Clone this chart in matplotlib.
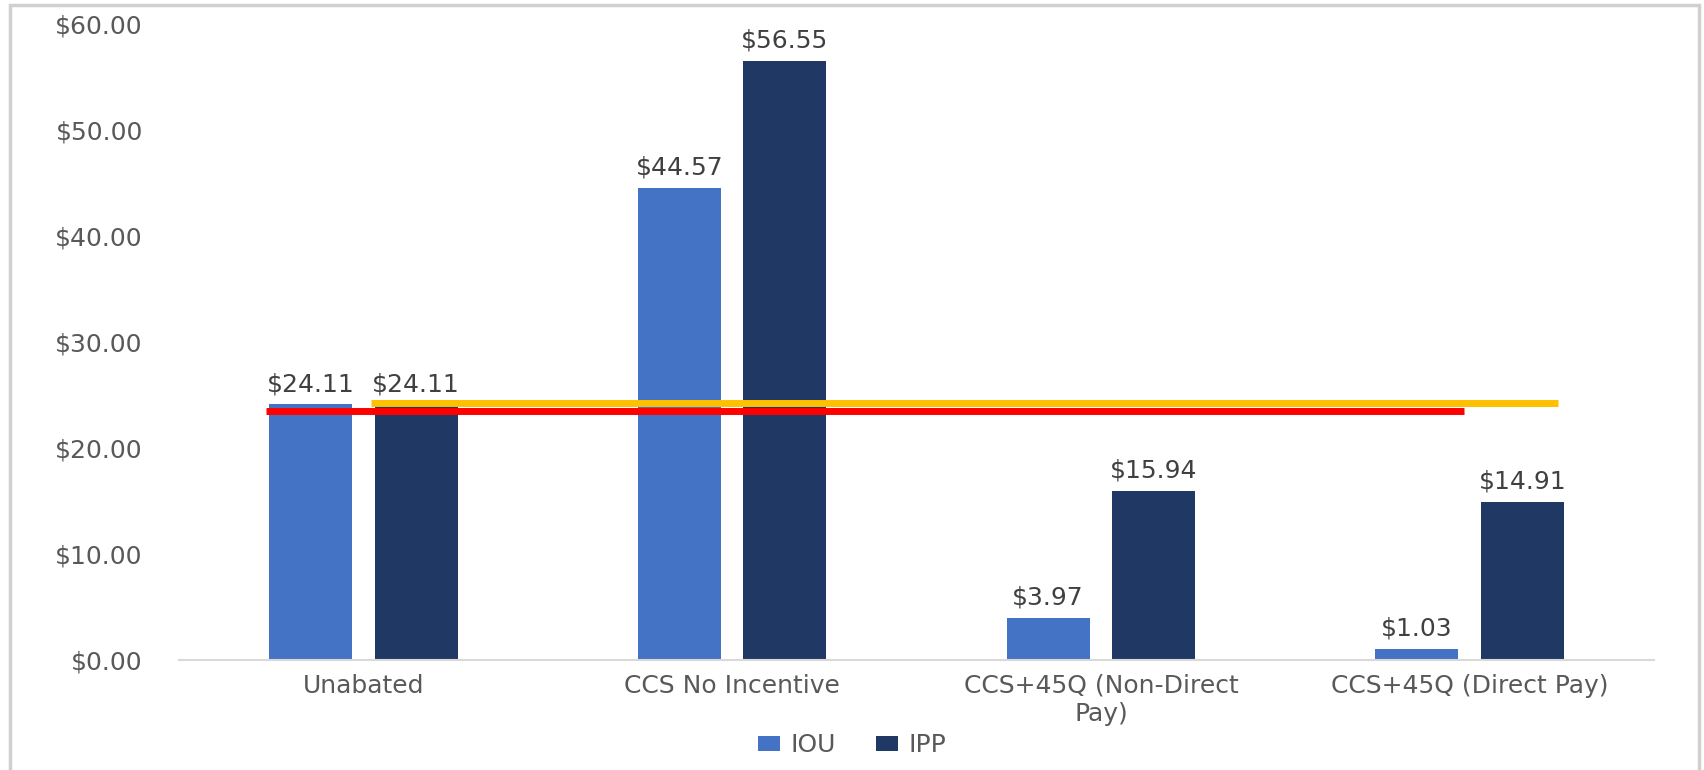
import numpy as np
import matplotlib.pyplot as plt
from matplotlib.patches import Rectangle

categories = ['Unabated', 'CCS No Incentive', 'CCS+45Q (Non-Direct\nPay)', 'CCS+45Q (Direct Pay)']
iou = [24.11, 44.57, 3.97, 1.03]
ipp = [24.11, 56.55, 15.94, 14.91]
y_ticks = [0, 10, 20, 30, 40, 50, 60]

# the two reference levels drawn across the chart
red_level = 23.5
red_span = [-0.264, 2.985]
yellow_level = 24.2
yellow_span = [0.021, 3.24]

text_col = '#595959'
plt.rcParams['font.family'] = ['DejaVu Sans']

fig = plt.figure(figsize=(17.04, 7.7), dpi=100)
ax = fig.add_axes([0.105, 0.1429, 0.8657, 0.8259])

x = np.arange(len(categories))
w = 0.225
off = 0.143
b1 = ax.bar(x - off, iou, w, color='#4472C4', label='IOU', zorder=2)
b2 = ax.bar(x + off, ipp, w, color='#203864', label='IPP', zorder=2)

for bars in (b1, b2):
    ax.bar_label(bars, labels=['${:.2f}'.format(v) for v in bars.datavalues],
                 padding=6, fontsize=18, color='#404040')

ax.plot(yellow_span, [yellow_level] * 2, color='#FFC000', lw=5, zorder=3, solid_capstyle='butt')
ax.plot(red_span, [red_level] * 2, color='#FF0000', lw=5, zorder=3, solid_capstyle='butt')

ax.set_xlim(-0.5, len(categories) - 0.5)
ax.set_ylim(0, 60)
ax.set_yticks(y_ticks)
ax.set_yticklabels(['${:.2f}'.format(v) for v in y_ticks])
ax.set_xticks(x)
ax.set_xticklabels(categories)
ax.tick_params(axis='y', length=0, pad=26, labelsize=18, labelcolor=text_col)
ax.tick_params(axis='x', length=0, pad=10, labelsize=18, labelcolor=text_col)
for s in ['top', 'right', 'left']:
    ax.spines[s].set_visible(False)
ax.spines['bottom'].set_color('#D9D9D9')
ax.spines['bottom'].set_linewidth(1.5)

fig.legend(handles=[b1, b2], labels=['IOU', 'IPP'], loc='center', bbox_to_anchor=(0.5, 0.032),
           ncol=2, frameon=False, fontsize=18, labelcolor=text_col,
           handlelength=0.9, handleheight=0.6, handletextpad=0.4, columnspacing=1.6)

# outer frame of the screenshot
fig.patches.append(Rectangle((10 / 1704, -0.05), 1689 / 1704, 1.05 - 5 / 770,
                             transform=fig.transFigure, fill=False,
                             edgecolor='#D0D0D0', linewidth=2.5))

fig.savefig('out.png', dpi=100)
